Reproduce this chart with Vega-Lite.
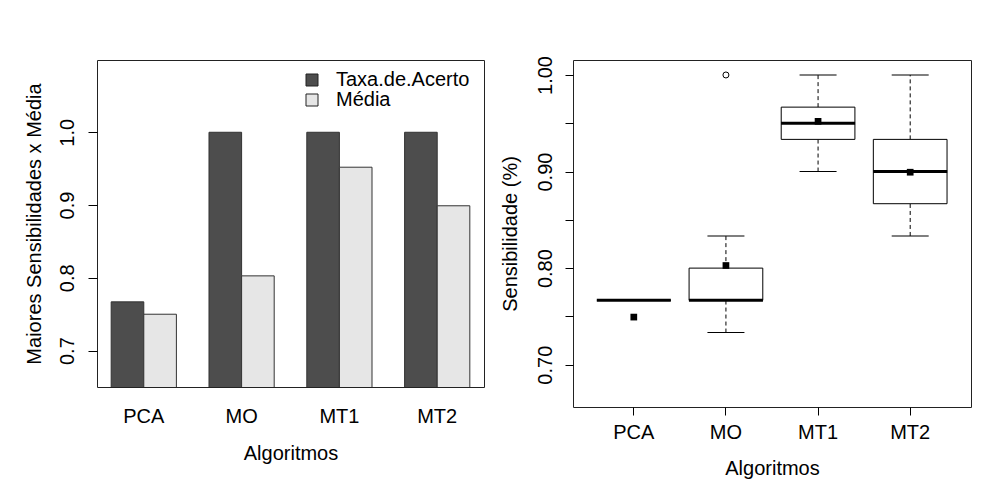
{
  "$schema": "https://vega.github.io/schema/vega-lite/v6.json",
  "padding": {"left": 23, "top": 55, "right": 5, "bottom": 5},
  "spacing": 14,
  "background": "white",
  "config": {
    "font": "Liberation Sans",
    "view": {"stroke": "#222", "strokeWidth": 1},
    "axis": {"labelFont": "Liberation Sans", "titleFont": "Liberation Sans", "labelFontSize": 20, "titleFontSize": 20, "labelColor": "black", "titleColor": "black", "titleFontWeight": "normal", "tickColor": "black", "grid": false, "domain": false}
  },
  "datasets": {
    "bars": [
      {"alg": "PCA", "serie": "Taxa.de.Acerto", "valor": 0.767},
      {"alg": "PCA", "serie": "Média", "valor": 0.75},
      {"alg": "MO", "serie": "Taxa.de.Acerto", "valor": 1.0},
      {"alg": "MO", "serie": "Média", "valor": 0.8027},
      {"alg": "MT1", "serie": "Taxa.de.Acerto", "valor": 1.0},
      {"alg": "MT1", "serie": "Média", "valor": 0.952},
      {"alg": "MT2", "serie": "Taxa.de.Acerto", "valor": 1.0},
      {"alg": "MT2", "serie": "Média", "valor": 0.899}
    ],
    "box": [
      {"alg": "PCA", "lower": 0.7667, "q1": 0.7667, "median": 0.7667, "q3": 0.7667, "upper": 0.7667, "mean": 0.7493},
      {"alg": "MO", "lower": 0.7333, "q1": 0.7667, "median": 0.7667, "q3": 0.8, "upper": 0.8333, "mean": 0.8027},
      {"alg": "MT1", "lower": 0.9, "q1": 0.9333, "median": 0.95, "q3": 0.9667, "upper": 1.0, "mean": 0.952},
      {"alg": "MT2", "lower": 0.8333, "q1": 0.8667, "median": 0.9, "q3": 0.9333, "upper": 1.0, "mean": 0.8993}
    ],
    "out": [
      {"alg": "MO", "valor": 1.0}
    ]
  },
  "hconcat": [
    {
      "width": 387,
      "height": 327,
      "data": {"name": "bars"},
      "mark": {"type": "bar", "stroke": "#333", "strokeWidth": 1, "clip": true},
      "encoding": {
        "x": {
          "field": "alg", "type": "nominal", "sort": ["PCA", "MO", "MT1", "MT2"],
          "scale": {"paddingInner": 0.3333, "paddingOuter": 0.145},
          "axis": {"title": "Algoritmos", "labelAngle": 0, "ticks": false, "tickSize": 0, "labelPadding": 19, "titlePadding": 17}
        },
        "xOffset": {
          "field": "serie", "type": "nominal", "sort": ["Taxa.de.Acerto", "Média"],
          "scale": {"paddingInner": 0, "paddingOuter": 0}
        },
        "y": {
          "field": "valor", "type": "quantitative",
          "scale": {"domain": [0.65, 1.0993], "zero": false, "nice": false},
          "axis": {"title": "Maiores Sensibilidades x Média", "values": [0.7, 0.8, 0.9, 1.0], "format": ".1f", "labelAngle": -90, "tickSize": 9, "labelPadding": 11, "titlePadding": 13}
        },
        "color": {
          "field": "serie", "type": "nominal",
          "scale": {"domain": ["Taxa.de.Acerto", "Média"], "range": ["#4d4d4d", "#e6e6e6"]},
          "legend": {
            "title": null, "orient": "none", "legendX": 205, "legendY": 10,
            "symbolType": "square", "symbolSize": 144, "symbolStrokeColor": "#222", "symbolStrokeWidth": 1,
            "labelFontSize": 20, "labelFont": "Liberation Sans", "labelColor": "black", "labelOffset": 14, "rowPadding": -1.5, "padding": 0
          }
        }
      }
    },
    {
      "width": 398,
      "height": 347,
      "data": {"name": "box"},
      "encoding": {
        "x": {
          "field": "alg", "type": "nominal", "sort": ["PCA", "MO", "MT1", "MT2"],
          "scale": {"domain": ["PCA", "MO", "MT1", "MT2"], "paddingInner": 0.2, "paddingOuter": 0.26},
          "axis": {"title": "Algoritmos", "labelAngle": 0, "tickSize": 8, "labelPadding": 7, "titlePadding": 16}
        }
      },
      "layer": [
        {
          "mark": {"type": "rule", "color": "black", "strokeWidth": 1, "strokeDash": [4, 3]},
          "encoding": {
            "y": {
              "field": "lower", "type": "quantitative",
              "scale": {"domain": [0.6562, 1.0155], "zero": false, "nice": false},
              "axis": {"title": "Sensibilidade (%)", "values": [0.7, 0.75, 0.8, 0.85, 0.9, 0.95, 1.0], "labelExpr": "(round(datum.value*100) % 10 == 0) ? format(datum.value, '.2f') : ''", "labelAngle": -90, "tickSize": 8, "labelPadding": 9.5, "titlePadding": 15}
            },
            "y2": {"field": "q1"}
          }
        },
        {
          "mark": {"type": "rule", "color": "black", "strokeWidth": 1, "strokeDash": [4, 3]},
          "encoding": {
            "y": {"field": "q3", "type": "quantitative"},
            "y2": {"field": "upper"}
          }
        },
        {
          "mark": {"type": "tick", "color": "black", "size": 37, "thickness": 1, "opacity": 1},
          "encoding": {"y": {"field": "lower", "type": "quantitative"}}
        },
        {
          "mark": {"type": "tick", "color": "black", "size": 37, "thickness": 1, "opacity": 1},
          "encoding": {"y": {"field": "upper", "type": "quantitative"}}
        },
        {
          "mark": {"type": "bar", "fill": "white", "stroke": "black", "strokeWidth": 1},
          "encoding": {
            "y": {"field": "q1", "type": "quantitative"},
            "y2": {"field": "q3"}
          }
        },
        {
          "mark": {"type": "tick", "color": "black", "size": 74, "thickness": 3, "opacity": 1},
          "encoding": {"y": {"field": "median", "type": "quantitative"}}
        },
        {
          "mark": {"type": "point", "shape": "square", "filled": true, "color": "black", "size": 45, "opacity": 1},
          "encoding": {"y": {"field": "mean", "type": "quantitative"}}
        },
        {
          "data": {"name": "out"},
          "mark": {"type": "point", "shape": "circle", "filled": false, "color": "black", "size": 36, "strokeWidth": 1, "opacity": 1},
          "encoding": {"y": {"field": "valor", "type": "quantitative"}}
        }
      ]
    }
  ]
}
